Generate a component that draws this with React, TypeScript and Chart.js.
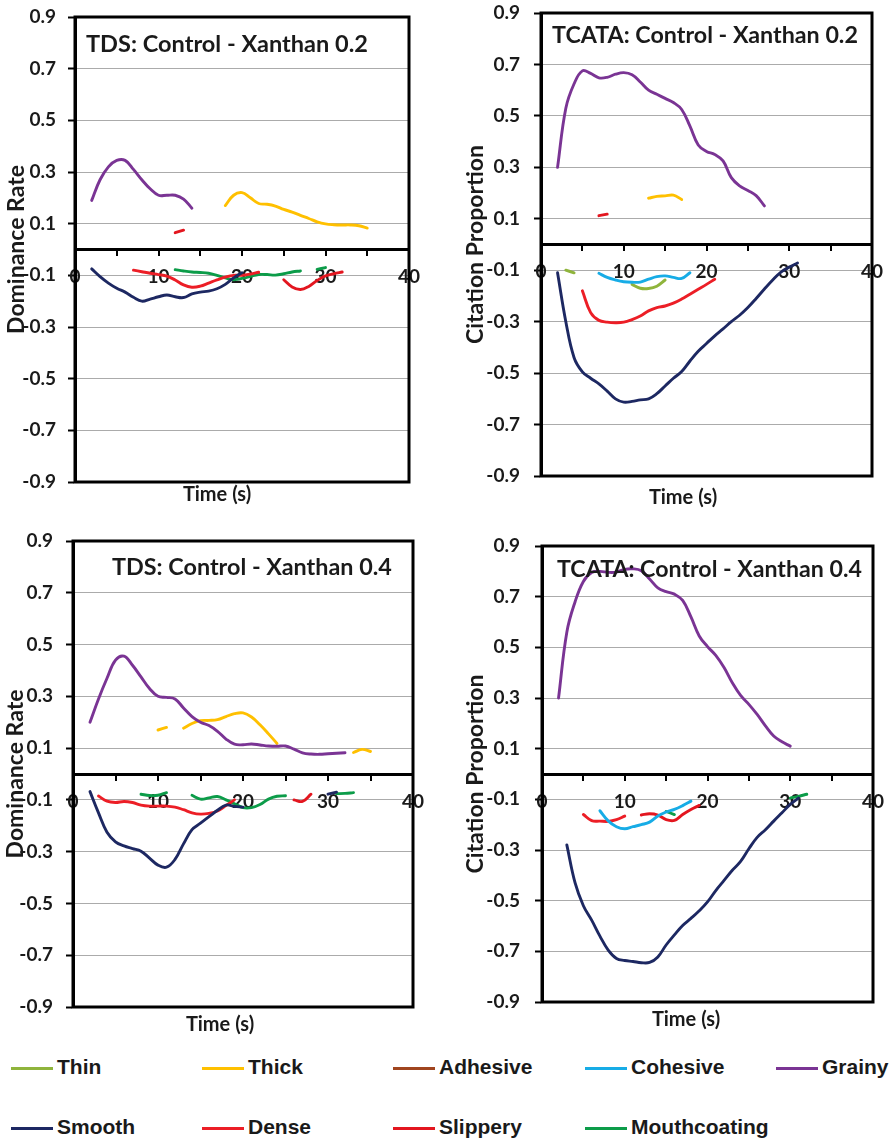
import React, { useEffect, useRef } from "react";
import { Chart, registerables } from "chart.js";
Chart.register(...registerables);

const _ = null;

// Time axis (s)
const TIME = [0, 1, 2, 3, 4, 5, 6, 7, 8, 9, 10, 11, 12, 13, 14, 15, 16, 17, 18, 19, 20, 21, 22, 23, 24, 25, 26, 27, 28, 29, 30, 31, 32, 33, 34, 35, 36];
const X_TICKS = [0, 10, 20, 30, 40];
const Y_TICKS = [-0.9, -0.7, -0.5, -0.3, -0.1, 0.1, 0.3, 0.5, 0.7, 0.9];

// ---- TDS: Control - Xanthan 0.2 ----
const TDS02_GRAINY = [0.19, 0.27, 0.32, 0.345, 0.345, 0.31, 0.27, 0.235, 0.21, 0.21, 0.21, 0.195, 0.16];
const TDS02_THICK = [0.17, 0.21, 0.22, 0.2, 0.178, 0.175, 0.168, 0.155, 0.145, 0.132, 0.12, 0.107, 0.099, 0.096, 0.095, 0.095, 0.092, 0.083];
const TDS02_SMOOTH = [-0.075, -0.105, -0.13, -0.15, -0.165, -0.185, -0.2, -0.192, -0.183, -0.176, -0.183, -0.186, -0.172, -0.165, -0.161, -0.152, -0.135, -0.11, -0.09];
const TDS02_DENSE = [-0.08, -0.086, -0.092, -0.097, -0.103, -0.118, -0.137, -0.146, -0.142, -0.13, -0.118, -0.107, -0.1, -0.1, -0.095, -0.088];
const TDS02_SLIPPERY = [0.065, 0.075, _, _, _, _, _, _, _, _, _, _, _, -0.117, -0.145, -0.155, -0.143, -0.12, -0.102, -0.094, -0.087];
const TDS02_MOUTH = [-0.078, -0.083, -0.087, -0.089, -0.092, -0.1, -0.11, -0.117, -0.112, -0.104, -0.097, -0.097, -0.099, -0.094, -0.087, -0.083, _, -0.077, -0.07];

// ---- TCATA: Control - Xanthan 0.2 ----
const TC02_GRAINY = [0.3, 0.53, 0.625, 0.675, 0.665, 0.648, 0.65, 0.662, 0.668, 0.66, 0.632, 0.6, 0.584, 0.568, 0.552, 0.525, 0.46, 0.387, 0.362, 0.35, 0.325, 0.26, 0.228, 0.21, 0.19, 0.15];
const TC02_THICK = [0.18, 0.187, 0.189, 0.192, 0.175];
const TC02_THIN = [-0.1, -0.11, _, _, _, _, _, _, -0.155, -0.17, -0.171, -0.162, -0.138];
const TC02_COHESIVE = [-0.112, -0.128, -0.138, -0.145, -0.147, -0.146, -0.135, -0.125, -0.122, -0.128, -0.132, -0.11];
const TC02_DENSE = [-0.18, -0.265, -0.295, -0.302, -0.304, -0.302, -0.292, -0.278, -0.258, -0.245, -0.239, -0.228, -0.212, -0.193, -0.174, -0.155, -0.135];
const TC02_SLIPPERY = [0.112, 0.118];
const TC02_SMOOTH = [-0.11, -0.3, -0.44, -0.495, -0.52, -0.542, -0.57, -0.6, -0.613, -0.61, -0.604, -0.6, -0.58, -0.55, -0.52, -0.494, -0.453, -0.415, -0.385, -0.355, -0.328, -0.3, -0.275, -0.245, -0.21, -0.173, -0.138, -0.107, -0.088, -0.072];

// ---- TDS: Control - Xanthan 0.4 ----
const TDS04_GRAINY = [0.2, 0.29, 0.37, 0.44, 0.455, 0.42, 0.375, 0.33, 0.3, 0.296, 0.29, 0.255, 0.222, 0.2, 0.187, 0.165, 0.135, 0.115, 0.113, 0.116, 0.112, 0.108, 0.107, 0.108, 0.096, 0.082, 0.077, 0.076, 0.078, 0.08, 0.082];
const TDS04_THICK = [0.17, 0.18, _, 0.177, 0.195, 0.206, 0.207, 0.21, 0.222, 0.233, 0.236, 0.22, 0.19, 0.155, 0.118, _, _, _, _, _, _, _, _, 0.083, 0.095, 0.087];
const TDS04_SMOOTH = [-0.068, -0.15, -0.225, -0.262, -0.278, -0.288, -0.298, -0.325, -0.352, -0.36, -0.33, -0.27, -0.215, -0.19, -0.165, -0.14, -0.12, -0.125, -0.128, _, _, _, _, _, _, _, _, _, -0.078, -0.07];
const TDS04_DENSE = [-0.085, -0.105, -0.11, -0.106, -0.11, -0.12, -0.124, -0.124, -0.124, -0.128, -0.138, -0.15, -0.155, -0.152, -0.143, -0.122, -0.1];
const TDS04_SLIPPERY = [-0.1, -0.106, -0.078];
const TDS04_MOUTH = [-0.078, -0.083, -0.082, -0.072, _, _, -0.082, -0.097, -0.092, -0.087, -0.1, -0.115, -0.13, -0.13, -0.118, -0.097, -0.086, -0.084, _, _, _, _, _, -0.076, -0.075, -0.072];

// ---- TCATA: Control - Xanthan 0.4 ----
const TC04_GRAINY = [0.3, 0.56, 0.68, 0.76, 0.795, 0.8, 0.796, 0.797, 0.808, 0.81, 0.802, 0.77, 0.735, 0.72, 0.71, 0.685, 0.62, 0.545, 0.503, 0.468, 0.42, 0.36, 0.31, 0.275, 0.235, 0.19, 0.15, 0.127, 0.11];
const TC04_SMOOTH = [-0.28, -0.43, -0.52, -0.577, -0.64, -0.695, -0.728, -0.736, -0.74, -0.745, -0.744, -0.722, -0.675, -0.635, -0.598, -0.57, -0.54, -0.505, -0.46, -0.42, -0.38, -0.345, -0.295, -0.25, -0.22, -0.186, -0.153, -0.12, -0.095];
const TC04_COHESIVE = [-0.145, -0.185, -0.208, -0.216, -0.208, -0.2, -0.19, -0.166, -0.15, -0.14, -0.125, -0.107];
const TC04_DENSE = [-0.16, -0.184, -0.186, -0.187, -0.18, -0.166];
const TC04_SLIPPERY = [-0.162, -0.157, -0.162, -0.18, -0.183, -0.16, -0.14, -0.124];
const TC04_MOUTH = [-0.148, -0.16, _, _, _, _, _, _, _, _, _, _, _, _, _, -0.095, -0.088, -0.08];

const LEGEND_NAMES = ["Thin", "Thick", "Adhesive", "Cohesive", "Grainy", "Smooth", "Dense", "Slippery", "Mouthcoating"];

const COLORS: Record<string, string> = {
  Thin: "#8FB43C",
  Thick: "#FFC000",
  Adhesive: "#A0451F",
  Cohesive: "#17ACE6",
  Grainy: "#7A3494",
  Smooth: "#1D2862",
  Dense: "#EC1E26",
  Slippery: "#E3161F",
  Mouthcoating: "#0C9C49",
};

const TEXT = "#1a1a1a";
const FONT = "Lato, 'Open Sans', sans-serif";

type Series = { name: string; start: number; values: (number | null)[] };

const PANELS = [
  {
    left: 0, top: 0, w: 445, h: 520,
    pad: { left: 3, right: 36, top: 17, bottom: 38 }, yw: 72, tickPad: 12,
    yTitle: "Dominance Rate", title: "TDS: Control - Xanthan 0.2",
    titleX: 86, titleY: 44, titleW: 282, timeX: 217, timeY: 495,
    series: [
      { name: "Grainy", start: 2, values: TDS02_GRAINY },
      { name: "Thick", start: 18, values: TDS02_THICK },
      { name: "Smooth", start: 2, values: TDS02_SMOOTH },
      { name: "Dense", start: 7, values: TDS02_DENSE },
      { name: "Mouthcoating", start: 12, values: TDS02_MOUTH },
      { name: "Slippery", start: 12, values: TDS02_SLIPPERY },
    ] as Series[],
  },
  {
    left: 445, top: 0, w: 446, h: 520,
    pad: { left: 17, right: 19, top: 13, bottom: 44 }, yw: 79, tickPad: 14,
    yTitle: "Citation Proportion", title: "TCATA: Control - Xanthan 0.2",
    titleX: 107, titleY: 36, titleW: 306, timeX: 238, timeY: 498,
    series: [
      { name: "Grainy", start: 2, values: TC02_GRAINY },
      { name: "Thick", start: 13, values: TC02_THICK },
      { name: "Smooth", start: 2, values: TC02_SMOOTH },
      { name: "Dense", start: 5, values: TC02_DENSE },
      { name: "Cohesive", start: 7, values: TC02_COHESIVE },
      { name: "Thin", start: 3, values: TC02_THIN },
      { name: "Slippery", start: 7, values: TC02_SLIPPERY },
    ] as Series[],
  },
  {
    left: 0, top: 520, w: 445, h: 520,
    pad: { left: 2, right: 32, top: 21, bottom: 33 }, yw: 71, tickPad: 13,
    yTitle: "Dominance Rate", title: "TDS: Control - Xanthan 0.4",
    titleX: 112, titleY: 47, titleW: 280, timeX: 220, timeY: 505,
    series: [
      { name: "Grainy", start: 2, values: TDS04_GRAINY },
      { name: "Thick", start: 10, values: TDS04_THICK },
      { name: "Smooth", start: 2, values: TDS04_SMOOTH },
      { name: "Dense", start: 3, values: TDS04_DENSE },
      { name: "Mouthcoating", start: 8, values: TDS04_MOUTH },
      { name: "Slippery", start: 26, values: TDS04_SLIPPERY },
    ] as Series[],
  },
  {
    left: 445, top: 520, w: 446, h: 520,
    pad: { left: 17, right: 18, top: 26, bottom: 38 }, yw: 80, tickPad: 15,
    yTitle: "Citation Proportion", title: "TCATA: Control - Xanthan 0.4",
    titleX: 112, titleY: 50, titleW: 305, timeX: 241, timeY: 500,
    series: [
      { name: "Grainy", start: 2, values: TC04_GRAINY },
      { name: "Smooth", start: 3, values: TC04_SMOOTH },
      { name: "Cohesive", start: 7, values: TC04_COHESIVE },
      { name: "Dense", start: 5, values: TC04_DENSE },
      { name: "Slippery", start: 12, values: TC04_SLIPPERY },
      { name: "Mouthcoating", start: 15, values: TC04_MOUTH },
    ] as Series[],
  },
];

type PanelCfg = (typeof PANELS)[number];

function Panel({ cfg }: { cfg: PanelCfg }) {
  const ref = useRef<HTMLCanvasElement | null>(null);
  useEffect(() => {
    if (!ref.current) return;
    const textPlugin = {
      id: "panelText",
      afterDatasetsDraw(chart: any) {
        const ctx = chart.ctx as CanvasRenderingContext2D;
        const { left, top, right, bottom } = chart.chartArea;
        ctx.save();
        ctx.strokeStyle = "#000";
        ctx.lineWidth = 3;
        ctx.strokeRect(left, top, right - left, bottom - top);
        ctx.restore();
      },
      afterDraw(chart: any) {
        const ctx = chart.ctx as CanvasRenderingContext2D;
        ctx.save();
        ctx.fillStyle = TEXT;
        ctx.textBaseline = "middle";
        ctx.textAlign = "left";
        ctx.font = `bold 20px ${FONT}`;
        const w = ctx.measureText(cfg.title).width;
        const size = (20 * cfg.titleW) / w;
        ctx.font = `bold ${size.toFixed(2)}px ${FONT}`;
        ctx.fillText(cfg.title, cfg.titleX, cfg.titleY);
        ctx.font = `bold 20px ${FONT}`;
        ctx.textAlign = "center";
        ctx.fillText("Time (s)", cfg.timeX, cfg.timeY);
        ctx.restore();
      },
    };
    const chart = new Chart(ref.current, {
      type: "line",
      data: {
        datasets: cfg.series.map((s) => ({
          label: s.name,
          data: s.values.map((v, i) => ({ x: TIME[s.start + i], y: v })),
          borderColor: COLORS[s.name],
          backgroundColor: COLORS[s.name],
          borderWidth: 2.9,
          borderCapStyle: "round",
          pointRadius: 0,
          tension: 0.4,
          spanGaps: false,
          fill: false,
        })) as any,
      },
      options: {
        responsive: false,
        animation: false,
        devicePixelRatio: 1,
        layout: { padding: cfg.pad },
        plugins: {
          legend: { display: false },
          tooltip: { enabled: false },
          title: { display: false },
        },
        scales: {
          x: {
            type: "linear",
            min: 0,
            max: 40,
            position: { y: 0 } as any,
            ticks: {
              stepSize: 5,
              autoSkip: false,
              maxRotation: 0,
              padding: 11,
              color: TEXT,
              font: { family: FONT, weight: "bold", size: 19 },
              callback: (v: any) => (X_TICKS.includes(Number(v)) ? String(v) : ""),
            },
            grid: {
              drawOnChartArea: false,
              drawTicks: true,
              tickLength: 5,
              tickColor: "#000",
              tickWidth: 2,
              lineWidth: 2,
            },
            border: { display: true, color: "#000", width: 3 },
            afterFit: (s: any) => {
              s.paddingLeft = 0;
              s.paddingRight = 0;
            },
          },
          y: {
            type: "linear",
            min: -0.9,
            max: 0.9,
            ticks: {
              stepSize: 0.2,
              padding: cfg.tickPad,
              color: TEXT,
              font: { family: FONT, weight: "bold", size: 19 },
              callback: (v: any) => {
                const n = Number(v);
                return Y_TICKS.some((t) => Math.abs(t - n) < 1e-6) ? n.toFixed(1) : "";
              },
            },
            grid: {
              color: "#ABABAB",
              lineWidth: 1,
              tickColor: "#000",
              tickLength: 7,
              tickWidth: 2,
            },
            border: { display: true, color: "#000", width: 3 },
            title: {
              display: true,
              text: cfg.yTitle,
              color: TEXT,
              font: { family: FONT, weight: "bold", size: 23 },
              padding: { top: 0, bottom: 0 },
            },
            afterFit: (s: any) => {
              s.width = cfg.yw;
              s.paddingTop = 0;
              s.paddingBottom = 0;
            },
          },
        },
      } as any,
      plugins: [textPlugin],
    });
    return () => chart.destroy();
  }, [cfg]);
  return (
    <canvas
      ref={ref}
      width={cfg.w}
      height={cfg.h}
      style={{ position: "absolute", left: cfg.left, top: cfg.top, width: cfg.w, height: cfg.h }}
    />
  );
}

const LEGEND_COL_X = [11, 202, 393, 585, 776];
const LEGEND_ROW_Y = [1068, 1128];

export default function App() {
  return (
    <div style={{ position: "absolute", left: 0, top: 0, width: 891, height: 1142, background: "#fff", overflow: "hidden" }}>
      {PANELS.map((p, i) => (
        <Panel key={i} cfg={p} />
      ))}
      {LEGEND_NAMES.map((name, i) => {
        const x = LEGEND_COL_X[i % 5];
        const y = LEGEND_ROW_Y[Math.floor(i / 5)];
        return (
          <React.Fragment key={name}>
            <div style={{ position: "absolute", left: x, top: y - 1.5, width: 42, height: 3, background: COLORS[name] }} />
            <div
              style={{
                position: "absolute",
                left: x + 46,
                top: y - 14,
                lineHeight: "26px",
                fontFamily: "'Liberation Sans', Arial, sans-serif",
                fontWeight: "bold",
                fontSize: 21,
                color: TEXT,
                whiteSpace: "nowrap",
              }}
            >
              {name}
            </div>
          </React.Fragment>
        );
      })}
    </div>
  );
}
